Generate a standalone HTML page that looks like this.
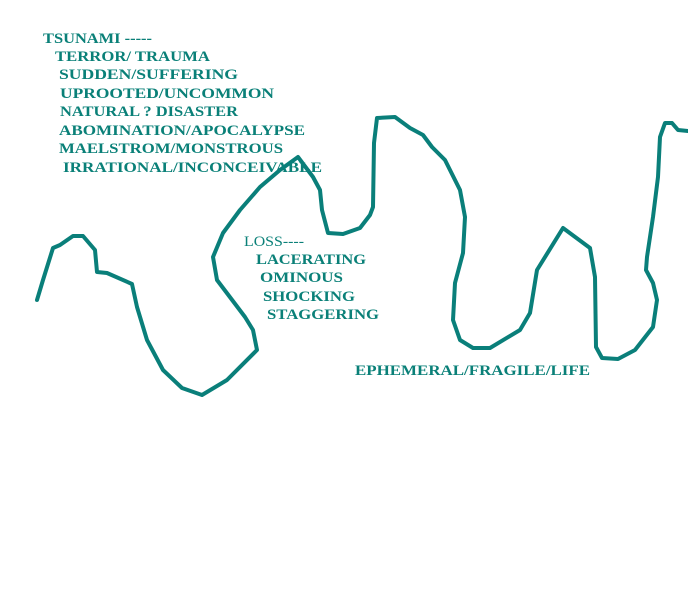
<!DOCTYPE html>
<html><head><meta charset="utf-8"><style>
html,body{margin:0;padding:0;background:#fff;width:688px;height:600px;overflow:hidden}
text{font-family:"Liberation Serif",serif;font-size:15px;fill:#0a8078;font-weight:bold}
</style></head><body>
<svg width="688" height="600" viewBox="0 0 688 600" xmlns="http://www.w3.org/2000/svg">
<g>
<text x="43" y="43" textLength="109" lengthAdjust="spacingAndGlyphs">TSUNAMI -----</text>
<text x="55" y="61" textLength="155" lengthAdjust="spacingAndGlyphs">TERROR/ TRAUMA</text>
<text x="59" y="79" textLength="179" lengthAdjust="spacingAndGlyphs">SUDDEN/SUFFERING</text>
<text x="60" y="98" textLength="214" lengthAdjust="spacingAndGlyphs">UPROOTED/UNCOMMON</text>
<text x="60" y="116" textLength="178" lengthAdjust="spacingAndGlyphs">NATURAL ? DISASTER</text>
<text x="59" y="135" textLength="246" lengthAdjust="spacingAndGlyphs">ABOMINATION/APOCALYPSE</text>
<text x="59" y="153" textLength="224" lengthAdjust="spacingAndGlyphs">MAELSTROM/MONSTROUS</text>
<text x="63" y="172" textLength="259" lengthAdjust="spacingAndGlyphs">IRRATIONAL/INCONCEIVABLE</text>
<text x="244" y="246" textLength="60" lengthAdjust="spacingAndGlyphs" style="font-weight:normal">LOSS----</text>
<text x="256" y="264" textLength="110" lengthAdjust="spacingAndGlyphs">LACERATING</text>
<text x="260" y="282" textLength="83" lengthAdjust="spacingAndGlyphs">OMINOUS</text>
<text x="263" y="301" textLength="92" lengthAdjust="spacingAndGlyphs">SHOCKING</text>
<text x="267" y="319" textLength="112" lengthAdjust="spacingAndGlyphs">STAGGERING</text>
<text x="355" y="375" textLength="235" lengthAdjust="spacingAndGlyphs">EPHEMERAL/FRAGILE/LIFE</text>
</g>
<polyline fill="none" stroke="#0a7f7a" stroke-width="4" stroke-linejoin="round" stroke-linecap="round" points="37,300 43,280 53,248 60,245 73,236 83,236 95,250 97,272 107,273 132,284 137,307 147,340 163,370 182,388 202,395 227,380 257,350 253,330 245,317 217,280 213,257 223,233 240,210 260,187 280,170 298,157 313,177 320,190 322,210 328,233 343,234 360,228 370,215 373,207 374,143 377,118 395,117 410,128 423,135 432,147 445,160 460,190 465,217 463,253 455,283 453,320 460,340 473,348 490,348 520,330 530,313 537,270 563,228 590,248 595,277 596,347 602,358 618,359 635,350 653,327 657,300 653,283 646,270 647,257 653,217 658,177 660,137 665,123 672,123 678,130 688,131"/>
</svg>
</body></html>
